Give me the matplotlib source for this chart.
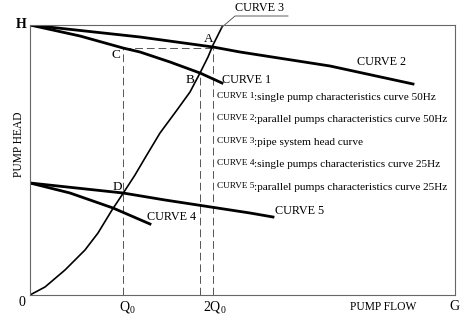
import matplotlib
matplotlib.use("Agg")
import matplotlib.pyplot as plt

plt.rcParams['font.family'] = ['Liberation Serif', 'DejaVu Serif']
plt.rcParams['mathtext.fontset'] = 'custom'
plt.rcParams['mathtext.rm'] = 'Liberation Serif'
plt.rcParams['mathtext.it'] = 'Liberation Serif'

# Data (flow units 0..425, head units 0..270)
c1_flow = [0, 50, 93, 110, 140, 170, 192]
c1_head = [270, 259, 247, 243, 233, 222, 212]
c2_flow = [0, 110, 183, 210, 300, 383]
c2_head = [270, 258, 248, 243, 229, 211]
c3_flow = [0, 15, 35, 55, 68, 82, 92, 105, 115, 130, 147, 160, 170, 178, 183, 188, 193]
c3_head = [0, 8, 25, 45, 62, 85, 100, 120, 137, 162, 185, 203, 222, 238, 250, 260, 270]
c4_flow = [0, 40, 83, 120]
c4_head = [112, 102, 87, 71]
c5_flow = [0, 93, 135, 220, 243]
c5_head = [112, 102, 95, 82, 78]

Q0 = 93
QB = 170
Q2 = 183
H_C = 247
H_B = 222

legend_prefix = ["CURVE 1", "CURVE 2", "CURVE 3", "CURVE 4", "CURVE 5"]
legend_rest = [
    ":single pump characteristics curve 50Hz",
    ":parallel pumps characteristics curve 50Hz",
    ":pipe system head curve",
    ":single pumps characteristics curve 25Hz",
    ":parallel pumps characteristics curve 25Hz",
]

fig = plt.figure(figsize=(4.77, 3.24), dpi=100)
ax = fig.add_axes([30/477, 29/324, 425/477, 270/324])
ax.set_xlim(0, 425)
ax.set_ylim(0, 270)
for s in ax.spines.values():
    s.set_color('#666666')
    s.set_linewidth(0.8)
ax.set_xticks([])
ax.set_yticks([])

dash_kw = dict(color='#555555', lw=0.7, ls=(0, (8, 4)))
ax.plot([Q0, Q0], [0, H_C], **dash_kw)
ax.plot([Q0, Q2], [H_C, H_C], **dash_kw)
ax.plot([Q2, Q2], [0, H_C], **dash_kw)
ax.plot([QB, QB], [0, H_B], **dash_kw)

ax.plot(c1_flow, c1_head, color='black', lw=2.0)
ax.plot(c2_flow, c2_head, color='black', lw=2.0)
ax.plot(c3_flow, c3_head, color='black', lw=1.2)
ax.plot(c4_flow, c4_head, color='black', lw=2.0)
ax.plot(c5_flow, c5_head, color='black', lw=2.0)

# leader for curve 3
ax.plot([191, 205, 258], [267, 279, 279], color='#444444', lw=0.6, clip_on=False)

fs_big = 8.7
ax.text(192, 215, "CURVE 1", fontsize=fs_big, va='center', ha='left')
ax.text(327, 233, "CURVE 2", fontsize=fs_big, va='center', ha='left')
ax.text(205, 287, "CURVE 3", fontsize=fs_big, va='center', ha='left', clip_on=False)
ax.text(117, 78, "CURVE 4", fontsize=fs_big, va='center', ha='left')
ax.text(245, 84, "CURVE 5", fontsize=fs_big, va='center', ha='left')

ys = [197, 175, 152, 130, 107]
for y, p, t in zip(ys, legend_prefix, legend_rest):
    tp = ax.text(187, y, p, fontsize=6.7, va='baseline', ha='left')
    ax.annotate(t, xy=(1, 0), xycoords=tp, fontsize=8.1, va='baseline', ha='left')

pt_kw = dict(fontsize=9.5, va='center', ha='center')
ax.text(179, 256, "A", **pt_kw)
ax.text(160, 215, "B", **pt_kw)
ax.text(86, 240, "C", **pt_kw)
ax.text(87, 108, "D", **pt_kw)

ax.text(-9, 270, "H", fontsize=10, fontweight='bold', va='center', ha='center', clip_on=False)
ax.text(-8, -7, "0", fontsize=10, va='center', ha='center', clip_on=False)
ax.text(97, -12, r"$\mathrm{Q_0}$", fontsize=10, va='center', ha='center', clip_on=False)
ax.text(185, -12, r"$\mathrm{2Q_0}$", fontsize=10, va='center', ha='center', clip_on=False)
ax.text(353, -12, "PUMP FLOW", fontsize=8.3, va='center', ha='center', clip_on=False)
ax.text(424, -11, "G", fontsize=10, va='center', ha='center', clip_on=False)
ax.text(-11, 151, "PUMP HEAD", fontsize=8.3, rotation=90, va='center', ha='center', clip_on=False)

fig.savefig("out.png", dpi=100, facecolor='white')
